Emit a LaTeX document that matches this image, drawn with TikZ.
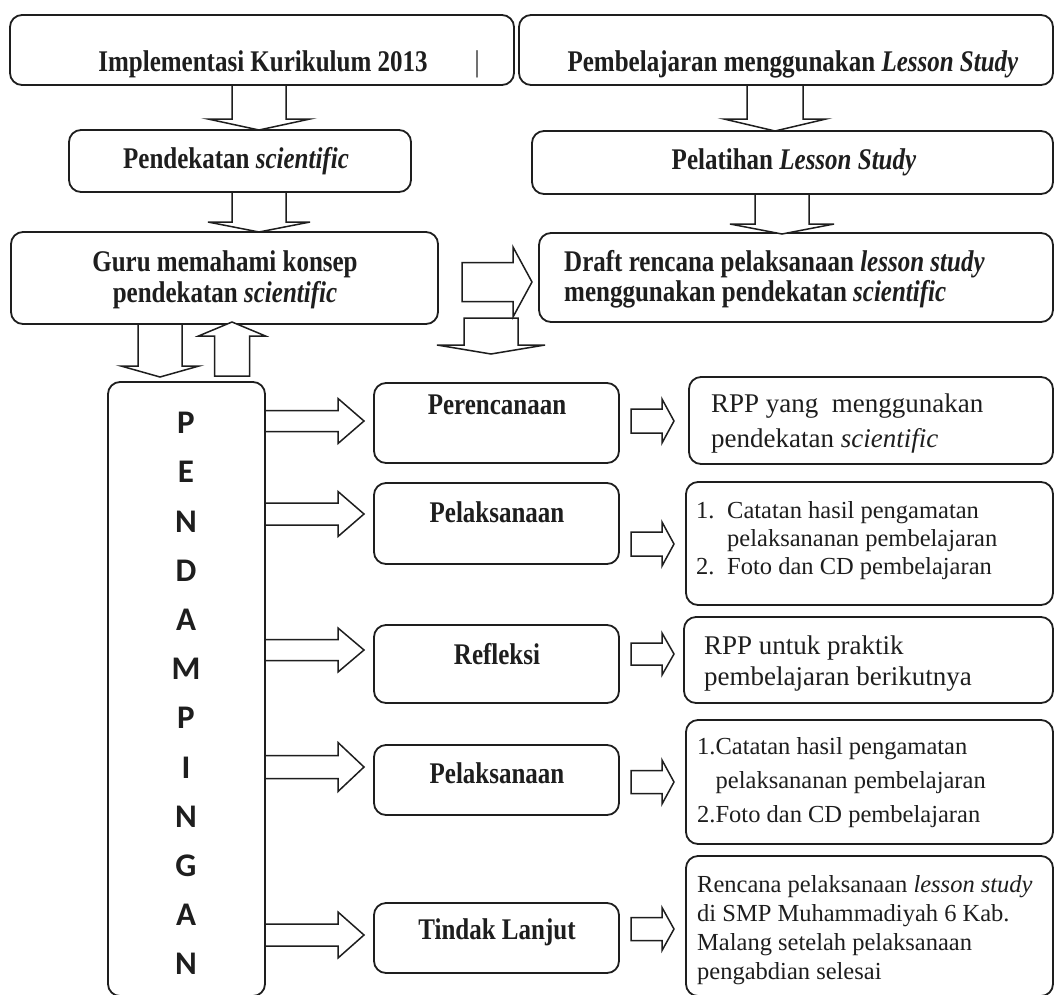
\documentclass[tikz,border=0pt]{standalone}
\usepackage{graphicx}
\usepackage{fontspec}
\setmainfont{Liberation Serif}
\newfontfamily\calfont{Carlito}
\definecolor{ink}{HTML}{1E1E1E}
\newcommand\vs[1]{\scalebox{1}[1.2]{#1}}
\tikzset{
  box/.style={draw=ink, line width=1.8pt, rounded corners=12pt, rectangle, inner sep=0pt},
  barrow/.style={draw=ink, line width=1.5pt, fill=white, line join=miter},
  btxt/.style={font=\fontsize{25}{29}\selectfont\bfseries, text=ink, inner sep=0pt},
  rtxt/.style={text=ink, inner sep=0pt, align=left, anchor=west},
}
\newcommand\mkbox[5]{\node[box, minimum width={#4-#2}, minimum height={#5-#3}] (#1) at ({(#2+#4)/2},{(#3+#5)/2}) {};}
\newcommand\hblock[6]{\draw[barrow] (#1,{#4-#5}) -- (#2,{#4-#5}) -- (#2,{#4-#6}) -- (#3,#4) -- (#2,{#4+#6}) -- (#2,{#4+#5}) -- (#1,{#4+#5}) -- cycle;}
\newcommand\vblock[6]{\draw[barrow] ({#1-#5},#2) -- ({#1-#5},#3) -- ({#1-#6},#3) -- (#1,#4) -- ({#1+#6},#3) -- ({#1+#5},#3) -- ({#1+#5},#2) -- cycle;}
\begin{document}
\begin{tikzpicture}[x=1pt,y=-1pt]
\useasboundingbox (0,0) rectangle (1055,994);
\fill[white] (0,0) rectangle (1055,994);
\clip (0,0) rectangle (1055,994);
% top boxes
\mkbox{kur}{10}{15}{514}{85}
\mkbox{pls}{519}{15}{1053}{85}
\mkbox{pend}{69}{130}{411}{192}
\mkbox{pelat}{532}{131}{1053}{194}
\mkbox{guru}{11}{232}{438}{324}
\mkbox{draft}{539}{233}{1053}{322}
% pendampingan
\mkbox{pdp}{108}{382}{265}{996}
% middle boxes
\mkbox{m1}{374}{383}{619}{463}
\mkbox{m2}{374}{483}{619}{564}
\mkbox{m3}{374}{625}{619}{703}
\mkbox{m4}{374}{745}{619}{815}
\mkbox{m5}{374}{903}{619}{973}
% right boxes
\mkbox{r1}{689}{377}{1053}{464}
\mkbox{r2}{686}{482}{1053}{605}
\mkbox{r3}{684}{617}{1053}{703}
\mkbox{r4}{686}{720}{1053}{844}
\mkbox{r5}{686}{856}{1053}{996}
% block arrows (vertical)
\vblock{259}{85}{119}{130}{27}{51}
\vblock{775}{85}{119}{131}{28}{51}
\vblock{259}{192}{222}{232}{27}{51}
\vblock{782}{194}{224}{234}{27}{52}
\vblock{160}{324}{366}{377}{22}{39}
\vblock{232}{376}{336}{322}{17.5}{33.5}
\vblock{491}{318}{345}{354}{27}{54}
% block arrows (horizontal)
\hblock{462}{513}{532}{282}{19.5}{35}
\hblock{265}{338}{364}{421}{10.5}{22.5}
\hblock{265}{338}{364}{514}{11}{22.5}
\hblock{265}{338}{364}{650}{10.5}{22}
\hblock{265}{338}{364}{767}{11.5}{24.5}
\hblock{265}{338}{364}{935}{11}{23}
\hblock{631}{662}{674}{421}{12}{22}
\hblock{631}{662}{674}{544}{12}{22}
\hblock{631}{662}{674}{654}{11}{21}
\hblock{631}{662}{674}{782}{11.5}{22}
\hblock{631}{662}{674}{929}{11.5}{21.5}
% texts
\node[btxt] (t1) at (263,64) {\vs{Implementasi Kurikulum 2013}};
\node[text=ink, inner sep=0pt, font=\fontsize{25}{29}\selectfont] (bar) at (477,64) {\vs{|}};
\node[btxt] (t2) at (793,64) {\vs{Pembelajaran menggunakan \textit{Lesson Study}}};
\node[btxt] (t3) at (236,161) {\vs{Pendekatan \textit{scientific}}};
\node[btxt] (t4) at (794,162) {\vs{Pelatihan \textit{Lesson Study}}};
\node[btxt] (t5a) at (225,264) {\vs{Guru memahami konsep}};
\node[btxt] (t5b) at (225,295) {\vs{pendekatan \textit{scientific}}};
\node[btxt, anchor=west] (t6a) at (564,264) {\vs{Draft rencana pelaksanaan \textit{lesson study}}};
\node[btxt, anchor=west] (t6b) at (564,294) {\vs{menggunakan pendekatan \textit{scientific}}};
\node[text=ink, inner sep=0pt, align=center, font={\fontsize{33}{49.2}\calfont\bfseries}] (pt) at (186,693.5) {P\\E\\N\\D\\A\\M\\P\\I\\N\\G\\A\\N};
\node[btxt] (m1t) at (497,405) {\vs{Perencanaan}};
\node[btxt] (m2t) at (497,512) {\vs{Pelaksanaan}};
\node[btxt] (m3t) at (497,654) {\vs{Refleksi}};
\node[btxt] (m4t) at (497,773) {\vs{Pelaksanaan}};
\node[btxt] (m5t) at (497,932) {\vs{Tindak Lanjut}};
\node[rtxt, font=\fontsize{27}{35}\selectfont] (r1t) at (711,423.5) {RPP yang\ \ menggunakan\\pendekatan \textit{scientific}};
\node[rtxt, font=\fontsize{24.5}{28}\selectfont] (r2t) at (696,541) {\makebox[31pt][l]{1.}Catatan hasil pengamatan\\\hspace*{31pt}pelaksananan pembelajaran\\\makebox[31pt][l]{2.}Foto dan CD pembelajaran};
\node[rtxt, font=\fontsize{27}{31}\selectfont] (r3t) at (704,663.5) {RPP untuk praktik\\pembelajaran berikutnya};
\node[rtxt, font=\fontsize{24.5}{34}\selectfont] (r4t) at (697,783) {1.Catatan hasil pengamatan\\\hspace*{18.5pt}pelaksananan pembelajaran\\2.Foto dan CD pembelajaran};
\node[rtxt, font=\fontsize{24.5}{29}\selectfont] (r5t) at (697,930) {Rencana pelaksanaan \textit{lesson study}\\di SMP Muhammadiyah 6 Kab.\\Malang setelah pelaksanaan\\pengabdian selesai};
\end{tikzpicture}
\end{document}
